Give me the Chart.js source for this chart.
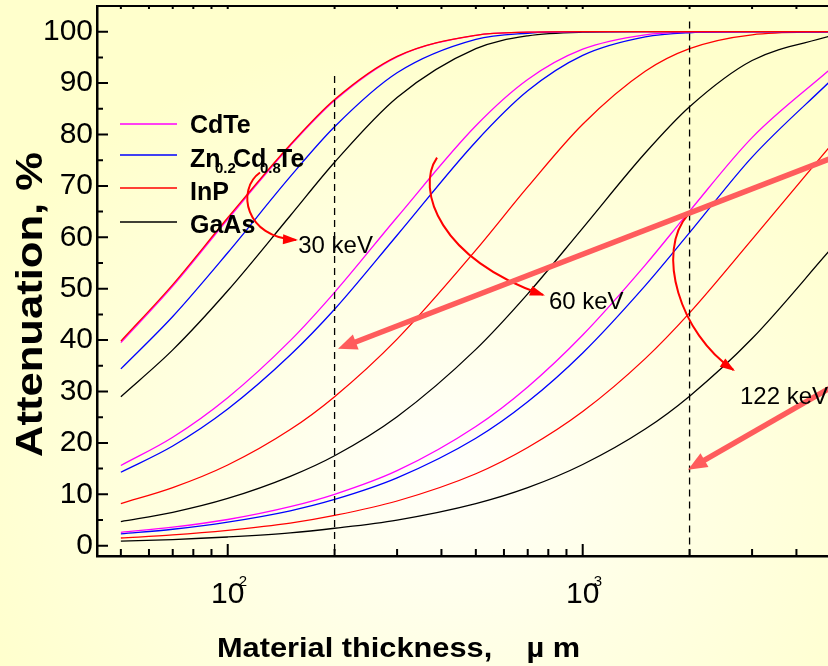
<!DOCTYPE html>
<html>
<head>
<meta charset="utf-8">
<title>Attenuation vs material thickness</title>
<style>
  html, body { margin: 0; padding: 0; overflow: hidden; }
  body {
    width: 828px; height: 666px;
    background: radial-gradient(ellipse 520px 440px at 450px 470px, #fffffa 0%, #ffffe4 45%, #ffffcc 100%);
  }
  #wrap { position: relative; width: 828px; height: 666px; }
</style>
<script src="https://cdn.jsdelivr.net/npm/chart.js@4.4.1/dist/chart.umd.min.js"></script>
</head>
<body>
<div id="wrap"><canvas id="chart_attenuation"></canvas></div>
<script>
// thickness in micrometres
const thickness = [50, 70, 100, 150, 200, 300, 500, 700, 1000, 1500, 2000, 3000, 5000];

// 30 keV
const cdte30 = [39.5, 50.5, 63.5, 77.8, 86.6, 95.1, 99.3, 99.9, 100, 100, 100, 100, 100];
const czt30  = [34.4, 44.6, 57.0, 71.8, 81.5, 92.0, 98.5, 99.7, 100, 100, 100, 100, 100];
const inp30  = [39.8, 50.8, 63.8, 78.0, 86.8, 95.2, 99.3, 99.9, 100, 100, 100, 100, 100];
const gaas30 = [29.0, 38.1, 49.6, 64.2, 74.6, 87.2, 96.7, 99.2, 99.9, 100, 100, 100, 100];

// 60 keV
const cdte60 = [15.6, 21.1, 28.8, 39.9, 49.3, 63.9, 81.7, 90.7, 96.6, 99.4, 99.9, 100, 100];
const czt60  = [14.3, 19.4, 26.6, 37.1, 46.0, 60.4, 78.6, 88.5, 95.4, 99.0, 99.8, 100, 100];
const inp60  = [8.2, 11.3, 15.7, 22.6, 29.0, 40.2, 57.5, 69.8, 82.0, 92.3, 96.7, 99.4, 100];
const gaas60 = [4.7, 6.5, 9.2, 13.5, 17.5, 25.1, 38.2, 49.0, 61.8, 76.4, 85.4, 94.4, 99.2];

// 122 keV
const cdte122 = [2.6, 3.6, 5.1, 7.6, 10.0, 14.6, 23.2, 30.9, 41.0, 54.6, 65.1, 79.4, 92.8];
const czt122  = [2.3, 3.2, 4.6, 6.8, 9.0, 13.2, 20.9, 28.0, 37.5, 50.6, 60.9, 75.6, 90.5];
const inp122  = [1.5, 2.1, 3.0, 4.4, 5.9, 8.7, 14.0, 19.1, 26.1, 36.4, 45.3, 59.6, 77.9];
const gaas122 = [0.9, 1.2, 1.7, 2.5, 3.4, 5.0, 8.2, 11.3, 15.8, 22.7, 29.1, 40.3, 57.7];

const xMajorTicks = [100, 1000];
const xExponents = ['2', '3'];
const xMinorTicks = [50, 60, 70, 80, 90, 200, 300, 400, 500, 600, 700, 800, 900, 2000, 3000, 4000];
const yMajorTicks = [0, 10, 20, 30, 40, 50, 60, 70, 80, 90, 100];
const yMinorTicks = [5, 15, 25, 35, 45, 55, 65, 75, 85, 95];

const colCdTe = '#ff00ff';
const colCZT = '#0000ff';
const colInP = '#ff0000';
const colGaAs = '#000000';

// annotations, in data units (thickness, %)
const energyLabels = [
  { text: '30 keV', x: 158, y: 57.0 },
  { text: '60 keV', x: 803, y: 46.1 },
  { text: '122 keV', x: 2773, y: 27.6 }
];
const curvedArrows = [
  [[123.3, 72.6], [105.5, 69.3], [111.9, 59.9], [155.7, 59.5]],
  [[388.7, 75.5], [337.1, 69.3], [396.3, 55.6], [773.2, 48.8]],
  [[1980, 64.4], [1599, 57.2], [1880, 41.2], [2656, 34.2]]
];
const thickArrows = [
  [[4975, 75.3], [204.5, 38.3]],
  [[4975, 30.7], [1980, 14.8]]
];
const dashedMarkers = [
  { x: 200, top: 91.4 },
  { x: 2000, top: 102 }
];

const FONT = '"Liberation Sans", Arial, Helvetica, sans-serif';
Chart.defaults.font.family = FONT;
Chart.defaults.color = '#000';

function series(values, color, order) {
  return {
    data: values.map((v, i) => ({ x: thickness[i], y: v })),
    borderColor: color,
    borderWidth: 1.3,
    pointRadius: 0,
    fill: false,
    order: order || 0,
    cubicInterpolationMode: 'monotone'
  };
}

function arrowHead(ctx, tx, ty, ang, len, half, color) {
  ctx.fillStyle = color;
  ctx.beginPath();
  ctx.moveTo(tx, ty);
  ctx.lineTo(tx - len * Math.cos(ang) + half * Math.sin(ang), ty - len * Math.sin(ang) - half * Math.cos(ang));
  ctx.lineTo(tx - len * Math.cos(ang) - half * Math.sin(ang), ty - len * Math.sin(ang) + half * Math.cos(ang));
  ctx.closePath();
  ctx.fill();
}

const overlayPlugin = {
  id: 'overlay',
  afterDatasetsDraw(chart) {
    const { ctx, chartArea: ca, scales: { x, y } } = chart;
    const px = v => x.getPixelForValue(v);
    const py = v => y.getPixelForValue(v);
    ctx.save();

    // dashed vertical markers
    ctx.strokeStyle = '#000';
    ctx.lineWidth = 1.3;
    ctx.setLineDash([7, 5]);
    dashedMarkers.forEach(m => {
      ctx.beginPath();
      ctx.moveTo(px(m.x), py(m.top));
      ctx.lineTo(px(m.x), ca.bottom);
      ctx.stroke();
    });
    ctx.setLineDash([]);

    // inward tick marks + top frame
    ctx.lineWidth = 2;
    ctx.beginPath();
    xMajorTicks.forEach(v => { ctx.moveTo(px(v), ca.bottom); ctx.lineTo(px(v), ca.bottom - 12); });
    xMinorTicks.forEach(v => { ctx.moveTo(px(v), ca.bottom); ctx.lineTo(px(v), ca.bottom - 7); });
    xMajorTicks.concat(xMinorTicks).forEach(v => { ctx.moveTo(px(v), ca.top); ctx.lineTo(px(v), ca.top + 3); });
    yMajorTicks.forEach(v => { ctx.moveTo(ca.left, py(v)); ctx.lineTo(ca.left + 11, py(v)); });
    yMinorTicks.forEach(v => { ctx.moveTo(ca.left, py(v)); ctx.lineTo(ca.left + 6, py(v)); });
    ctx.stroke();
    ctx.lineWidth = 2.2;
    ctx.beginPath();
    ctx.moveTo(ca.left - 1, ca.top);
    ctx.lineTo(ca.right, ca.top);
    ctx.stroke();

    // thin curved red arrows
    ctx.strokeStyle = '#ff0000';
    ctx.lineWidth = 2;
    curvedArrows.forEach(pts => {
      const p = pts.map(q => [px(q[0]), py(q[1])]);
      ctx.beginPath();
      ctx.moveTo(p[0][0], p[0][1]);
      ctx.bezierCurveTo(p[1][0], p[1][1], p[2][0], p[2][1], p[3][0], p[3][1]);
      ctx.stroke();
      const ang = Math.atan2(p[3][1] - p[2][1], p[3][0] - p[2][0]);
      arrowHead(ctx, p[3][0] + 2 * Math.cos(ang), p[3][1] + 2 * Math.sin(ang), ang, 15, 5, '#ff0000');
    });

    // thick salmon arrows
    ctx.strokeStyle = '#ff5c5c';
    ctx.lineWidth = 5.5;
    thickArrows.forEach(pts => {
      const x0 = px(pts[0][0]), y0 = py(pts[0][1]);
      const x1 = px(pts[1][0]), y1 = py(pts[1][1]);
      const ang = Math.atan2(y1 - y0, x1 - x0);
      ctx.beginPath();
      ctx.moveTo(x0, y0);
      ctx.lineTo(x1 - 14 * Math.cos(ang), y1 - 14 * Math.sin(ang));
      ctx.stroke();
      arrowHead(ctx, x1, y1, ang, 19, 8, '#ff5c5c');
    });

    // energy labels
    ctx.fillStyle = '#000';
    ctx.font = '24px ' + FONT;
    ctx.textBaseline = 'alphabetic';
    ctx.textAlign = 'left';
    energyLabels.forEach(l => ctx.fillText(l.text, px(l.x), py(l.y)));

    // legend
    const rows = [
      { color: colCdTe, line: 118, base: 127, parts: [['CdTe', 0, 0]] },
      { color: colCZT, line: 149, base: 161, parts: [['Zn', 0, 0], ['0.2', 25, 1], ['Cd', 43, 0], ['0.8', 70, 1], ['Te', 87, 0]] },
      { color: colInP, line: 182, base: 194, parts: [['InP', 0, 0]] },
      { color: colGaAs, line: 216, base: 227, parts: [['GaAs', 0, 0]] }
    ];
    rows.forEach(r => {
      ctx.strokeStyle = r.color;
      ctx.lineWidth = 1.5;
      ctx.beginPath();
      ctx.moveTo(ca.left + 23, ca.top + r.line);
      ctx.lineTo(ca.left + 80, ca.top + r.line);
      ctx.stroke();
      ctx.fillStyle = '#000';
      r.parts.forEach(([t, dx, sub]) => {
        ctx.font = sub ? 'bold 15px ' + FONT : 'bold 25px ' + FONT;
        ctx.fillText(t, ca.left + 93 + dx, ca.top + r.base + (sub ? 6 : 0));
      });
    });

    // exponents of the x tick labels
    ctx.font = '15px ' + FONT;
    xMajorTicks.forEach((v, i) => ctx.fillText(xExponents[i], px(v) + 11, 586));

    // axis titles
    ctx.font = 'bold 28px ' + FONT;
    const xt = 'Material thickness,    \u00b5 m';
    const xw = ctx.measureText(xt).width;
    ctx.save();
    ctx.translate(217, 657);
    ctx.scale(363 / xw, 1);
    ctx.fillText(xt, 0, 0);
    ctx.restore();

    ctx.font = 'bold 36px ' + FONT;
    const yt = 'Attenuation, %';
    const yw = ctx.measureText(yt).width;
    ctx.save();
    ctx.translate(42, 304.5);
    ctx.rotate(-Math.PI / 2);
    ctx.scale(305 / yw, 1);
    ctx.textAlign = 'center';
    ctx.fillText(yt, 0, 0);
    ctx.restore();

    ctx.restore();
  }
};

new Chart(document.getElementById('chart_attenuation'), {
  type: 'line',
  data: {
    datasets: [
      series(cdte30, colCdTe), series(czt30, colCZT), series(inp30, colInP, -1), series(gaas30, colGaAs),
      series(cdte60, colCdTe), series(czt60, colCZT), series(inp60, colInP), series(gaas60, colGaAs),
      series(cdte122, colCdTe), series(czt122, colCZT), series(inp122, colInP), series(gaas122, colGaAs)
    ]
  },
  options: {
    responsive: true,
    maintainAspectRatio: false,
    animation: false,
    devicePixelRatio: 1,
    layout: { padding: { left: 0, right: 0, top: 6, bottom: 0 } },
    plugins: { legend: { display: false }, tooltip: { enabled: false } },
    scales: {
      x: {
        type: 'logarithmic',
        min: 42.83,
        max: 4909,
        border: { display: true, color: '#000', width: 2.5 },
        grid: { display: true, drawOnChartArea: false, drawTicks: false },
        ticks: {
          font: { size: 30 },
          color: '#000',
          padding: 21,
          maxRotation: 0,
          autoSkip: false,
          callback: () => '10'
        },
        afterBuildTicks: s => { s.ticks = xMajorTicks.map(v => ({ value: v })); },
        afterFit: s => {
          s.height = 110;
          s.paddingLeft = 0; s.paddingRight = 0; s.paddingTop = 0; s.paddingBottom = 0;
        }
      },
      y: {
        type: 'linear',
        min: -2,
        max: 105,
        border: { display: true, color: '#000', width: 2.5 },
        grid: { display: true, drawOnChartArea: false, drawTicks: false },
        ticks: {
          font: { size: 30 },
          color: '#000',
          padding: 4
        },
        afterBuildTicks: s => { s.ticks = yMajorTicks.map(v => ({ value: v })); },
        afterFit: s => {
          s.width = 97;
          s.paddingLeft = 0; s.paddingRight = 0; s.paddingTop = 0; s.paddingBottom = 0;
        }
      }
    }
  },
  plugins: [overlayPlugin]
});
</script>
</body>
</html>
